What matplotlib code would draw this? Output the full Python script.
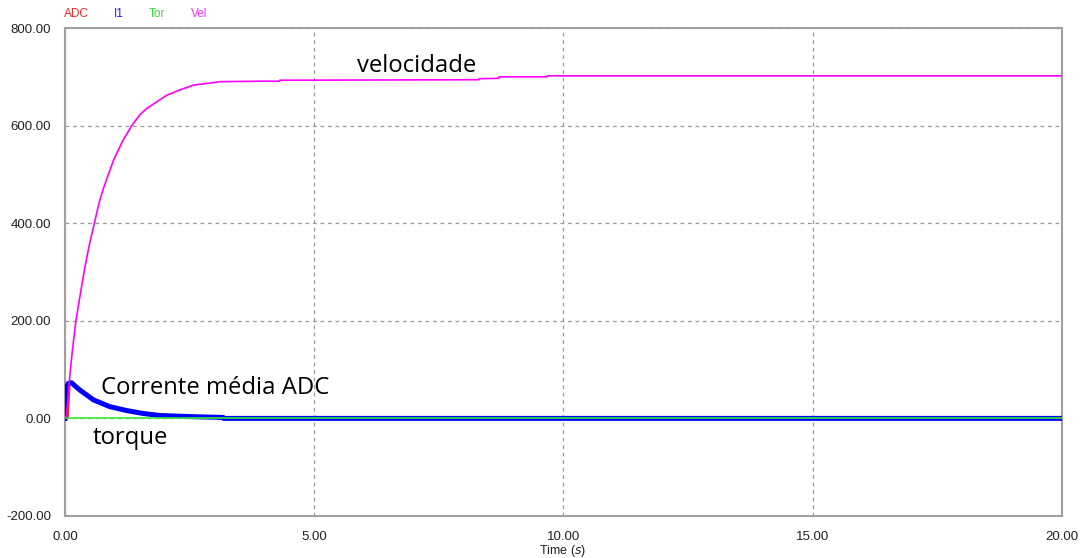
import matplotlib.pyplot as plt

# time axis (s) and traces
vel_t = [0, 0.03, 0.1, 0.15, 0.22, 0.30, 0.40, 0.50, 0.59, 0.68, 0.77, 0.97, 1.15, 1.34,
         1.5, 1.64, 1.8, 2.04, 2.3, 2.58, 3.11, 3.91, 4.3, 4.31, 8.3, 8.31, 8.7, 8.71,
         9.67, 9.68, 20.0]
vel = [0, 5, 90, 140, 200, 250, 310, 361, 400, 440, 471, 528, 567, 600,
       622, 635, 646, 662, 673, 683, 690, 691, 691, 693, 694, 696, 697, 700,
       700, 702, 702]

i1_t = [0, 0.03, 0.07, 0.13, 0.30, 0.57, 0.9, 1.24, 1.57, 1.9, 2.57, 3.17, 3.18, 20.0]
i1 = [0, 65, 72, 73, 58, 38, 24, 16, 10, 6, 3.5, 2, 0, 0]

adc_t = [0, 0.06, 0.1, 0.16, 0.3, 0.57, 0.9, 1.24, 1.9, 3.0, 20.0]
adc = [0, 2, 76, 74, 60, 38, 24, 16, 6, 2, 0]

tor_t = [0, 20.0]
tor = [0, 0]

xticks = [0, 5, 10, 15, 20]
yticks = [-200, 0, 200, 400, 600, 800]

plt.rcParams['font.family'] = ['Liberation Sans', 'DejaVu Sans']

fig = plt.figure(figsize=(10.81, 5.58), dpi=100)
ax = fig.add_axes([0.0601, 0.0753, 0.9223, 0.8745])

ax.plot(adc_t, adc, color='#ff2020', lw=1.2, zorder=3)
ax.plot(i1_t, i1, color='#0000ff', lw=3.6, zorder=4)
ax.plot(tor_t, tor, color='#33ee33', lw=1.2, zorder=5)
ax.plot(vel_t, vel, color='#ff00ff', lw=1.2, zorder=6)

ax.set_xlim(0, 20)
ax.set_ylim(-200, 800)
ax.set_xticks(xticks)
ax.set_yticks(yticks)
ax.set_xticklabels(['%.2f' % v for v in xticks], fontsize=9.5, color='#222222')
ax.set_yticklabels(['%.2f' % v for v in yticks], fontsize=9.5, color='#222222')
ax.tick_params(length=0)
ax.tick_params(axis='y', pad=10)
ax.tick_params(axis='x', pad=11)
ax.grid(True, color='#999999', ls=(0, (3, 3)), lw=0.9)
for s in ax.spines.values():
    s.set_color('#a0a0a0')
    s.set_linewidth(1.5)
fig.text(563 / 1081, 1 - 551 / 558, 'Time ($s$)', fontsize=9, color='#222222',
         ha='center', va='center')

# legend line at top
fig.text(64 / 1081, 1 - 14 / 558, 'ADC', color='#ff2020', fontsize=8.5, va='center')
fig.text(114 / 1081, 1 - 14 / 558, 'I1', color='#2020ff', fontsize=8.5, va='center')
fig.text(149 / 1081, 1 - 14 / 558, 'Tor', color='#33dd33', fontsize=8.5, va='center')
fig.text(191 / 1081, 1 - 14 / 558, 'Vel', color='#ff33ff', fontsize=8.5, va='center')

# annotations
ax.text(5.86, 722, 'velocidade', fontsize=17.2, family='Open Sans', va='center')
ax.text(0.72, 62, 'Corrente média ADC', fontsize=17.2, family='Open Sans', va='center')
ax.text(0.56, -40, 'torque', fontsize=17.2, family='Open Sans', va='center')

fig.savefig('out.png', dpi=100)
